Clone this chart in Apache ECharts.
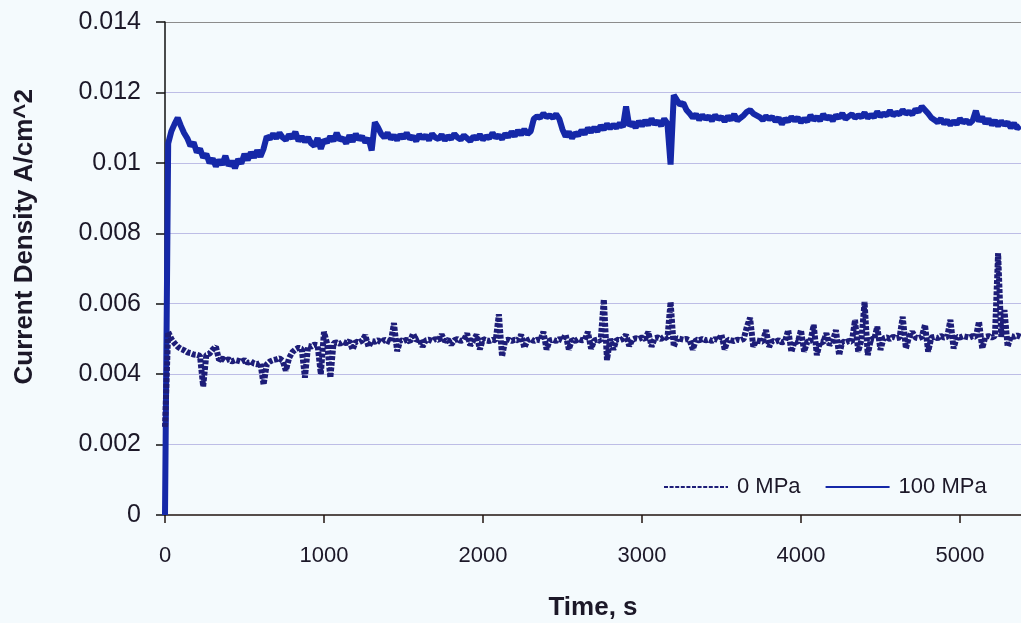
<!DOCTYPE html>
<html>
<head>
<meta charset="utf-8">
<title>Current Density vs Time</title>
<script src="https://cdn.jsdelivr.net/npm/echarts@6/dist/echarts.min.js"></script>
<style>
  html, body { margin: 0; padding: 0; background: #f4fafd; }
  #chart { width: 1021px; height: 623px; }
</style>
</head>
<body>
<div id="chart"></div>
<script>
// Logged every 20 s, starting at t = 0 s
const SAMPLE_STEP_S = 20;

const seriesNames = ['0 MPa', '100 MPa'];
const yTicks = [0, 0.002, 0.004, 0.006, 0.008, 0.01, 0.012, 0.014];
const xTicks = [0, 1000, 2000, 3000, 4000, 5000];

// Current density, A/cm^2, at 0 MPa
const density0MPa = [
  0.00250, 0.00520, 0.00500, 0.00488, 0.00478, 0.00472, 0.00468, 0.00462, 0.00460, 0.00456,
  0.00455, 0.00452, 0.00365, 0.00455, 0.00458, 0.00470, 0.00478, 0.00440, 0.00445, 0.00438,
  0.00442, 0.00436, 0.00440, 0.00438, 0.00435, 0.00440, 0.00432, 0.00436, 0.00430, 0.00428,
  0.00432, 0.00370, 0.00428, 0.00436, 0.00440, 0.00442, 0.00445, 0.00438, 0.00410, 0.00445,
  0.00462, 0.00470, 0.00475, 0.00472, 0.00390, 0.00480, 0.00478, 0.00484, 0.00482, 0.00400,
  0.00520, 0.00486, 0.00390, 0.00488, 0.00490, 0.00486, 0.00492, 0.00488, 0.00494, 0.00470,
  0.00492, 0.00490, 0.00495, 0.00510, 0.00478, 0.00494, 0.00492, 0.00496, 0.00490, 0.00498,
  0.00494, 0.00490, 0.00545, 0.00465, 0.00496, 0.00494, 0.00498, 0.00492, 0.00515, 0.00496,
  0.00500, 0.00478, 0.00496, 0.00498, 0.00494, 0.00500, 0.00496, 0.00512, 0.00494, 0.00498,
  0.00484, 0.00496, 0.00500, 0.00494, 0.00498, 0.00515, 0.00482, 0.00496, 0.00512, 0.00470,
  0.00500, 0.00496, 0.00494, 0.00498, 0.00496, 0.00570, 0.00450, 0.00496, 0.00498, 0.00494,
  0.00498, 0.00496, 0.00512, 0.00475, 0.00496, 0.00500, 0.00494, 0.00498, 0.00496, 0.00520,
  0.00470, 0.00496, 0.00498, 0.00494, 0.00500, 0.00496, 0.00512, 0.00470, 0.00498, 0.00494,
  0.00500, 0.00496, 0.00498, 0.00520, 0.00472, 0.00496, 0.00498, 0.00494, 0.00612, 0.00440,
  0.00500, 0.00470, 0.00498, 0.00496, 0.00500, 0.00512, 0.00480, 0.00498, 0.00502, 0.00500,
  0.00504, 0.00500, 0.00520, 0.00478, 0.00502, 0.00504, 0.00500, 0.00506, 0.00502, 0.00605,
  0.00478, 0.00502, 0.00500, 0.00498, 0.00500, 0.00496, 0.00470, 0.00498, 0.00496, 0.00500,
  0.00496, 0.00498, 0.00494, 0.00500, 0.00496, 0.00512, 0.00470, 0.00498, 0.00496, 0.00494,
  0.00498, 0.00496, 0.00500, 0.00535, 0.00560, 0.00478, 0.00496, 0.00494, 0.00492, 0.00525,
  0.00478, 0.00494, 0.00492, 0.00496, 0.00490, 0.00494, 0.00525, 0.00463, 0.00494, 0.00490,
  0.00525, 0.00464, 0.00492, 0.00494, 0.00540, 0.00454, 0.00492, 0.00490, 0.00516, 0.00483,
  0.00494, 0.00525, 0.00454, 0.00492, 0.00490, 0.00494, 0.00492, 0.00554, 0.00464, 0.00496,
  0.00605, 0.00454, 0.00500, 0.00498, 0.00535, 0.00469, 0.00502, 0.00504, 0.00500, 0.00506,
  0.00502, 0.00504, 0.00563, 0.00473, 0.00506, 0.00520, 0.00504, 0.00502, 0.00506, 0.00540,
  0.00464, 0.00504, 0.00506, 0.00502, 0.00508, 0.00504, 0.00506, 0.00554, 0.00473, 0.00506,
  0.00504, 0.00508, 0.00506, 0.00504, 0.00508, 0.00506, 0.00549, 0.00473, 0.00506, 0.00508,
  0.00504, 0.00508, 0.00744, 0.00506, 0.00582, 0.00478, 0.00508, 0.00506, 0.00510, 0.00506
];

// Current density, A/cm^2, at 100 MPa
const density100MPa = [
  0.00000, 0.01055, 0.01090, 0.01110, 0.01128, 0.01105, 0.01085, 0.01070, 0.01048, 0.01058,
  0.01030, 0.01040, 0.01015, 0.01025, 0.01000, 0.01012, 0.00990, 0.01008, 0.00995, 0.01020,
  0.00992, 0.01005, 0.00985, 0.01010, 0.00998, 0.01025, 0.01008, 0.01030, 0.01015, 0.01035,
  0.01018, 0.01040, 0.01075, 0.01068, 0.01082, 0.01070, 0.01085, 0.01072, 0.01065, 0.01080,
  0.01070, 0.01088, 0.01062, 0.01075, 0.01060, 0.01072, 0.01055, 0.01048, 0.01070, 0.01040,
  0.01065, 0.01058, 0.01075, 0.01062, 0.01085, 0.01065, 0.01070, 0.01055, 0.01078, 0.01060,
  0.01082, 0.01066, 0.01075, 0.01058, 0.01070, 0.01035, 0.01115, 0.01100, 0.01082, 0.01072,
  0.01085, 0.01068, 0.01078, 0.01065, 0.01080, 0.01070, 0.01085, 0.01068, 0.01075, 0.01062,
  0.01080, 0.01070, 0.01078, 0.01065, 0.01082, 0.01072, 0.01068, 0.01080, 0.01064, 0.01076,
  0.01068, 0.01082, 0.01072, 0.01066, 0.01078, 0.01070, 0.01062, 0.01075, 0.01068, 0.01080,
  0.01066, 0.01075, 0.01070, 0.01085, 0.01072, 0.01078, 0.01068, 0.01082, 0.01074, 0.01088,
  0.01076, 0.01092, 0.01080, 0.01095, 0.01082, 0.01090, 0.01125, 0.01132, 0.01128, 0.01140,
  0.01130, 0.01135, 0.01128, 0.01138, 0.01125, 0.01095, 0.01075, 0.01088, 0.01070, 0.01085,
  0.01078, 0.01092, 0.01082, 0.01098, 0.01088, 0.01100, 0.01090, 0.01105, 0.01095, 0.01110,
  0.01098, 0.01108, 0.01100, 0.01112, 0.01102, 0.01160, 0.01105, 0.01115, 0.01100, 0.01118,
  0.01105, 0.01120, 0.01108, 0.01125, 0.01110, 0.01118, 0.01105, 0.01125, 0.01112, 0.00995,
  0.01192, 0.01178, 0.01165, 0.01170, 0.01150, 0.01140, 0.01128, 0.01138, 0.01122, 0.01135,
  0.01125, 0.01132, 0.01120, 0.01135, 0.01125, 0.01130, 0.01118, 0.01132, 0.01122, 0.01138,
  0.01120, 0.01128, 0.01135, 0.01145, 0.01150, 0.01140, 0.01135, 0.01130, 0.01122, 0.01132,
  0.01125, 0.01130, 0.01118, 0.01128, 0.01110, 0.01125, 0.01118, 0.01130, 0.01120, 0.01128,
  0.01115, 0.01125, 0.01118, 0.01135, 0.01122, 0.01130, 0.01120, 0.01138, 0.01125, 0.01132,
  0.01120, 0.01135, 0.01128, 0.01140, 0.01125, 0.01132, 0.01138, 0.01128, 0.01135, 0.01130,
  0.01142, 0.01128, 0.01136, 0.01130, 0.01145, 0.01132, 0.01140, 0.01135, 0.01148, 0.01135,
  0.01142, 0.01138, 0.01150, 0.01140, 0.01145, 0.01138, 0.01152, 0.01145, 0.01160, 0.01150,
  0.01140, 0.01128, 0.01122, 0.01115, 0.01125, 0.01112, 0.01120, 0.01108, 0.01118, 0.01110,
  0.01125, 0.01115, 0.01120, 0.01112, 0.01120, 0.01148, 0.01118, 0.01130, 0.01112, 0.01125,
  0.01108, 0.01120, 0.01105, 0.01118, 0.01108, 0.01115, 0.01100, 0.01112, 0.01098, 0.01105
];

const toPairs = (values) => values.map((v, i) => [i * SAMPLE_STEP_S, v]);

const FONT = '"Liberation Sans", Arial, sans-serif';
const TEXT_COLOR = '#1c1828';
const COLOR_0MPA = '#1d1d78';
const COLOR_100MPA = '#1528a8';

const chart = echarts.init(document.getElementById('chart'), null, { renderer: 'canvas' });

chart.setOption({
  backgroundColor: '#f4fafd',
  animation: false,
  grid: {
    left: 165, right: 0, top: 22, bottom: 108,
    containLabel: false,
    outerBoundsMode: 'none'
  },
  legend: {
    data: seriesNames,
    left: 658,
    top: 471,
    itemWidth: 64,
    itemHeight: 6,
    itemGap: 24,
    itemStyle: { opacity: 0 },
    textStyle: { fontFamily: FONT, fontSize: 22, color: TEXT_COLOR, padding: [0, 0, 0, 4] }
  },
  xAxis: {
    type: 'value',
    min: 0,
    max: 5384,
    interval: 1000,
    name: 'Time, s',
    nameLocation: 'middle',
    nameGap: 80,
    nameTextStyle: { fontFamily: FONT, fontSize: 26, fontWeight: 'bold', color: TEXT_COLOR },
    axisLine: { show: true, onZero: false, lineStyle: { color: '#201410', width: 1.5 } },
    axisTick: { show: true, inside: false, length: 8, lineStyle: { color: '#201410', width: 1.5 } },
    axisLabel: {
      fontFamily: FONT, fontSize: 22, color: TEXT_COLOR, margin: 30,
      showMaxLabel: false,
      formatter: (v) => (xTicks.includes(v) ? String(v) : '')
    },
    splitLine: { show: false }
  },
  yAxis: {
    type: 'value',
    min: 0,
    max: 0.014,
    interval: 0.002,
    axisLine: { show: true, lineStyle: { color: '#101010', width: 1.5 } },
    axisTick: { show: true, inside: false, length: 9, lineStyle: { color: '#101010', width: 1.5 } },
    axisLabel: {
      fontFamily: FONT, fontSize: 25, color: TEXT_COLOR, margin: 24,
      formatter: (v) => {
        const t = yTicks.find((y) => Math.abs(y - v) < 1e-9);
        return t === undefined ? '' : String(t);
      }
    },
    splitLine: {
      show: true,
      lineStyle: {
        color: ['#f4fafd', '#bdbde6', '#bdbde6', '#bdbde6', '#bdbde6', '#bdbde6', '#bdbde6', '#8c8c8c'],
        width: 1.2
      }
    }
  },
  graphic: [{
    type: 'text',
    left: 12,
    top: 89,
    rotation: Math.PI / 2,
    style: {
      text: 'Current Density A/cm^2',
      fontFamily: FONT,
      fontSize: 26,
      fontWeight: 'bold',
      fill: TEXT_COLOR
    }
  }],
  series: [
    {
      name: seriesNames[0],
      type: 'line',
      data: toPairs(density0MPa),
      symbol: 'none',
      z: 3,
      lineStyle: { color: COLOR_0MPA, width: 6, type: [4, 1.6] },
      itemStyle: { color: COLOR_0MPA }
    },
    {
      name: seriesNames[1],
      type: 'line',
      data: toPairs(density100MPa),
      symbol: 'none',
      z: 2,
      lineStyle: { color: COLOR_100MPA, width: 6 },
      itemStyle: { color: COLOR_100MPA }
    }
  ]
});
</script>
</body>
</html>
